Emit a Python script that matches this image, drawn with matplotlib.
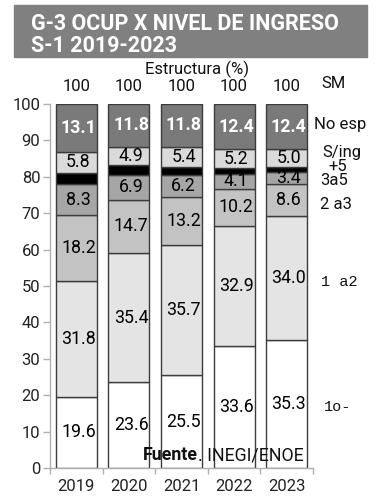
import matplotlib
matplotlib.use('Agg')
import matplotlib.pyplot as plt
from matplotlib.patches import Rectangle
import numpy as np

# ---------------- data ----------------
years = ['2019', '2020', '2021', '2022', '2023']
totals = [100, 100, 100, 100, 100]
s_1o = [19.6, 23.6, 25.5, 33.6, 35.3]
s_1a2 = [31.8, 35.4, 35.7, 32.9, 34.0]
s_2a3 = [18.2, 14.7, 13.2, 10.2, 8.6]
s_3a5 = [8.3, 6.9, 6.2, 4.1, 3.4]
s_mas5 = [3.2, 2.7, 2.2, 1.6, 1.3]
s_sing = [5.8, 4.9, 5.4, 5.2, 5.0]
s_noesp = [13.1, 11.8, 11.8, 12.4, 12.4]
yticks = [0, 10, 20, 30, 40, 50, 60, 70, 80, 90, 100]

W, H = 377, 500
NUM = 'Roboto'

fig = plt.figure(figsize=(W / 100, H / 100), dpi=100)
fig.patch.set_facecolor('white')

def fx(px):
    return px / W

def fy(py):
    return 1 - py / H

ax = fig.add_axes([fx(50), fy(468), 263 / W, 364 / H])

x = np.arange(len(years))
series = [
    (s_1o, '#ffffff', 'black', 'normal', True),
    (s_1a2, '#e4e4e4', 'black', 'normal', True),
    (s_2a3, '#c3c3c3', 'black', 'normal', True),
    (s_3a5, '#a6a6a6', 'black', 'normal', True),
    (s_mas5, '#000000', 'black', 'normal', False),
    (s_sing, '#dadada', 'black', 'normal', True),
    (s_noesp, '#7a7a7a', 'white', 'bold', True),
]
bottom = np.zeros(len(years))
for vals, col, tcol, tw, lab in series:
    v = np.array(vals)
    ax.bar(x, v, width=0.78, bottom=bottom, color=col, edgecolor='#3c3c3c',
           linewidth=1.0, zorder=2)
    if lab:
        for xi, b, val in zip(x, bottom, v):
            ax.text(xi + 0.04, b + val / 2, f'{val:.1f}', ha='center', va='center',
                    fontsize=12.8, color=tcol, fontweight=tw, family=NUM, zorder=3)
    bottom = bottom + v

ax.set_xlim(-0.5, len(years) - 0.5)
ax.set_ylim(0, 100)
ax.set_yticks(yticks)
ax.set_yticklabels([str(t) for t in yticks], fontsize=12, family=NUM, color='#222222')
ax.set_xticks(x)
ax.set_xticklabels(years, fontsize=12, family=NUM, color='#222222')
ax.tick_params(axis='x', length=0, pad=8)
ax.set_xticks(np.arange(-0.5, len(years)), minor=True)
ax.tick_params(axis='x', which='minor', length=4, color='#b0b0b0', width=1)
ax.tick_params(axis='y', length=5, color='#b0b0b0', width=1, pad=2)
for s in ['top', 'right']:
    ax.spines[s].set_visible(False)
for s in ['left', 'bottom']:
    ax.spines[s].set_color('#b0b0b0')
    ax.spines[s].set_linewidth(1)

# totals above bars
for xi, t in zip(x, totals):
    ax.text(xi, 104.7, str(t), ha='center', va='center', fontsize=12,
            family=NUM, color='#111111', clip_on=False)

# right side category labels
right_labels = [
    ('No esp', 4.52, 94.4, 'sans'),
    ('S/ing', 4.68, 86.6, 'sans'),
    ('+5', 4.80, 82.8, 'sans'),
    ('3a5', 4.64, 79.1, 'sans'),
    ('2 a3', 4.64, 72.3, 'sans'),
    ('1 a2', 4.66, 51.1, 'mono'),
    ('1o-', 4.70, 16.8, 'mono'),
]
for txt, xx, yy, kind in right_labels:
    if kind == 'sans':
        ax.text(xx, yy, txt, ha='left', va='center', fontsize=12, family=NUM,
                color='#111111', clip_on=False)
    else:
        ax.text(xx, yy, txt, ha='left', va='center', fontsize=11,
                family=['Liberation Mono', 'DejaVu Sans Mono'],
                color='#111111', clip_on=False)

# title box
fig.patches.append(Rectangle((fx(14), fy(57)), 353 / W, 52 / H,
                             transform=fig.transFigure, color='#808080', zorder=0))
fig.text(fx(31), fy(30.5), 'G-3 OCUP X NIVEL DE INGRESO', ha='left', va='baseline',
         fontsize=15.5, fontweight='bold', family=NUM, color='white')
fig.text(fx(31), fy(52.5), 'S-1 2019-2023', ha='left', va='baseline',
         fontsize=15.5, fontweight='bold', family=NUM, color='white')

fig.text(fx(197), fy(69), 'Estructura (%)', ha='center', va='center', fontsize=12,
         family=NUM, color='#111111')
fig.text(fx(334), fy(83), 'SM', ha='center', va='center', fontsize=12,
         family=NUM, color='#111111')

fig.text(fx(198), fy(455), 'Fuente', ha='right', va='center', fontsize=12.8,
         fontweight='bold', family=NUM, color='#111111', zorder=5)
fig.text(fx(198), fy(455), '. INEGI/ENOE', ha='left', va='center', fontsize=12.8,
         family=NUM, color='#111111', zorder=5)

fig.savefig('out.png', dpi=100, facecolor='white')
